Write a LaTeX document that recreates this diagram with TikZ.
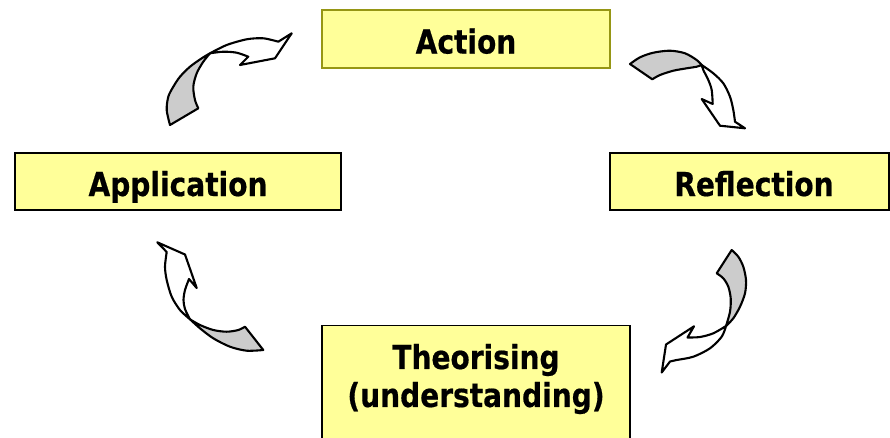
\documentclass[tikz,border=0pt]{standalone}
\usepackage{fontspec}
\setmainfont{DejaVu Sans}[FakeStretch=0.85, BoldFeatures={FakeBold=0.5}]
\definecolor{boxfill}{HTML}{FFFF99}
\definecolor{olivedge}{RGB}{150,150,20}
\definecolor{backgrey}{HTML}{CCCCCC}
\tikzset{
  box/.style={draw=black, fill=boxfill, line width=1.3pt, inner sep=0pt,
    text height=29pt, text depth=0pt,
    font=\fontsize{33}{38}\selectfont\bfseries, align=center},
  label/.style={inner sep=0pt, font=\fontsize{33}{38}\selectfont\bfseries, align=center},
  back/.style={fill=backgrey, draw=black, line width=2.1pt, line join=round},
  front/.style={fill=white, draw=black, line width=2.1pt, line join=round},
}
\begin{document}
\begin{tikzpicture}[x=1pt,y=-1pt]
\useasboundingbox (0,0) rectangle (890,437);
\clip (0,0) rectangle (890,437);
% boxes
\node[box, draw=olivedge, minimum width=288, minimum height=58] (action) at (466,39) {Action};
\node[box, minimum width=326, minimum height=57] (application) at (178,181.5) {Application};
\node[box, minimum width=279, minimum height=57] (reflection) at (749.5,181.5) {\hspace*{9pt}Reflection};
\node[box, anchor=north, minimum width=308, minimum height=130] (theobox) at (476,325) {};
\node[label] (theo) at (476,379) {Theorising\\(understanding)};
% arrow top-left
\draw[back] plot[smooth] coordinates {(170,125)(166.7,110)(168.3,96.7)(173.3,86.7)(180,76.7)(190,66.7)(201.7,58.3)(210,53.3)}
  -- plot[smooth] coordinates {(210,53.3)(203.3,61.7)(196.7,73.3)(193.3,86.7)(195,100)(198.3,108.3)} -- cycle;
\draw[front] plot[smooth] coordinates {(210,53.3)(226.7,45)(246.7,39.3)(263.3,38.3)(278.3,41.7)}
  -- (291.7,33.3) -- (275,58.3) -- (240,65)
  -- plot[smooth] coordinates {(248.3,56.7)(236.7,52.7)(223.3,51.7)(210,53.3)} -- cycle;
% arrow top-right
\draw[back] plot[smooth] coordinates {(630,64)(640,57.3)(653.3,52.7)(670,50.7)(685,53.3)(696.7,60)(701.7,65)}
  -- plot[smooth] coordinates {(701.7,65)(696.7,66.7)(686.7,68.3)(673.3,70.7)(660,75)(652.3,79.3)} -- cycle;
\draw[front] plot[smooth] coordinates {(701.7,65)(713.3,73.3)(723.3,83.3)(730,96.7)(733.3,110)(735,121.7)}
  -- (745,128.3) -- (720,125.7) -- (701.7,99)
  -- plot[smooth] coordinates {(712.7,104)(711.7,90)(708.3,80)(703.3,70)(701.7,65)} -- cycle;
% arrow bottom-left
\draw[back] plot[smooth] coordinates {(245,326.7)(238.3,330)(226.7,331.7)(213.3,330)(200,325)(190,319.3)}
  -- plot[smooth] coordinates {(190,319.3)(200,328.3)(213.3,338.3)(230,346.7)(246.7,350.7)(263.3,350)} -- cycle;
\draw[front] plot[smooth] coordinates {(190,319.3)(180,310)(171.7,296.7)(166.7,280)(165,266.7)(166.7,252)}
  -- (157.3,242.3) -- (185,254.5) -- (196.7,288)
  -- plot[smooth] coordinates {(189,279)(185,290)(183.5,300)(185,309)(190,319.3)} -- cycle;
% arrow bottom-right
\draw[back] plot[smooth] coordinates {(731.7,250)(738.3,256.7)(743.3,266.7)(746,280)(745,293.3)(740,306.7)(733.3,318.3)(726,326)}
  -- plot[smooth] coordinates {(726,326)(730,311.7)(730.7,298.3)(728.3,286.7)(723.3,278.3)(716.7,273.3)} -- cycle;
\draw[front] plot[smooth] coordinates {(726,326)(721.7,336.7)(710,348.3)(693.3,356.7)(676.7,360)(670,361.5)}
  -- (661.7,372.5) -- (666,344.5) -- (694,326.3)
  -- plot[smooth] coordinates {(687.5,337.5)(700,337)(713.3,333.3)(726,326)} -- cycle;
\end{tikzpicture}
\end{document}
